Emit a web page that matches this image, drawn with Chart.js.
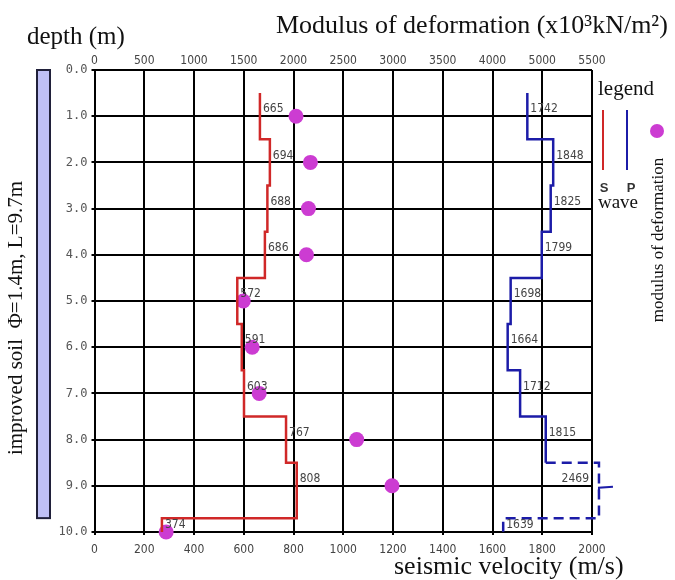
<!DOCTYPE html>
<html>
<head>
<meta charset="utf-8">
<script src="https://cdn.jsdelivr.net/npm/chart.js@4"></script>
<style>
  body { margin: 0; background: #fff; }
</style>
</head>
<body>
<canvas id="chart" width="675" height="580"></canvas>
<script>
// depth of the top of each logged layer (m); logs end at bottomDepth
const layerTops = [0.5, 1.5, 2.5, 3.5, 4.5, 5.5, 6.5, 7.5, 8.5, 9.7];
const bottomDepth = 10.0;

// S wave velocity per layer (m/s)
const sWave = [665, 705, 695, 685, 574, 592, 601, 770, 813, 271];
// P wave velocity per layer (m/s), layers from pDashedFrom are drawn dashed
const pWave = [1740, 1844, 1834, 1798, 1673, 1661, 1711, 1814, 2028, 1643];
const pDashedFrom = 8;

// values written beside the logs at every metre
const labelDepths = [1, 2, 3, 4, 5, 6, 7, 8, 9, 10];
const sLabels = [665, 694, 688, 686, 572, 591, 603, 767, 808, 374];
const pLabels = [1742, 1848, 1825, 1799, 1698, 1664, 1712, 1815, 2469, 1639];

// modulus of deformation (x10^3 kN/m2)
const modDepths = [1, 2, 3, 4, 5, 6, 7, 8, 9, 10];
const modulus = [2025, 2170, 2150, 2130, 1495, 1585, 1655, 2635, 2990, 720];

// top axis labels as printed
const modulusTickLabels = ['0', '500', '1000', '1500', '2000', '2500', '3000', '3500', '4000', '5000', '5500'];

// improved soil column length (m)
const pileLength = 9.7;

const S_COLOR = '#d02828';
const P_COLOR = '#1c1ca8';
const MOD_COLOR = '#cc3cd2';
const TICK_FONT = "'Liberation Sans Narrow', 'DejaVu Sans Condensed', sans-serif";
const SERIF = "'Liberation Serif', serif";

function layerBottom(i) {
    return i + 1 < layerTops.length ? layerTops[i + 1] : bottomDepth;
}

// turn layer values into a vertical step line
function stepPoints(vals, from, to) {
    const pts = [];
    for (let i = from; i < to; i++) {
        pts.push({ x: vals[i], y: layerTops[i] });
        pts.push({ x: vals[i], y: layerBottom(i) });
    }
    return pts;
}

function layerAt(depth) {
    let idx = 0;
    layerTops.forEach((t, i) => { if (t <= depth) idx = i; });
    return idx;
}

const sPoints = stepPoints(sWave, 0, layerTops.length);
const pSolid = stepPoints(pWave, 0, pDashedFrom);
const pDashed = [pSolid[pSolid.length - 1]].concat(stepPoints(pWave, pDashedFrom, layerTops.length));
const modPoints = modDepths.map((d, i) => ({ x: modulus[i], y: d }));

const decorPlugin = {
    id: 'decor',
    afterDatasetsDraw(chart) {
        const ctx = chart.ctx;
        const x = chart.scales.x;
        const y = chart.scales.y;
        ctx.save();

        // values beside the logs
        ctx.font = '12px ' + TICK_FONT;
        ctx.fillStyle = '#444';
        ctx.textBaseline = 'bottom';
        labelDepths.forEach((d, i) => {
            const py = y.getPixelForValue(d) - 1;
            const sv = sWave[layerAt(d - 0.05)];
            ctx.textAlign = 'left';
            ctx.fillText(String(sLabels[i]), x.getPixelForValue(sv) + 3, py);

            const pv = pWave[layerAt(d - 0.05)];
            const lx = x.getPixelForValue(pv);
            if (pLabels[i] > x.max) {
                ctx.textAlign = 'right';
                ctx.fillText(String(pLabels[i]), chart.chartArea.right - 3, py);
                // off-scale marker
                ctx.strokeStyle = P_COLOR;
                ctx.lineWidth = 2;
                ctx.beginPath();
                ctx.moveTo(lx, py + 8);
                ctx.lineTo(lx, py + 3);
                ctx.lineTo(lx + 14, py + 2);
                ctx.stroke();
            } else {
                ctx.textAlign = 'left';
                ctx.fillText(String(pLabels[i]), lx + 3, py);
            }
        });

        // improved soil column
        const top = y.getPixelForValue(0);
        const bot = y.getPixelForValue(pileLength);
        ctx.fillStyle = '#bfc0f6';
        ctx.fillRect(37, top, 13, bot - top);
        ctx.strokeStyle = '#20203a';
        ctx.lineWidth = 2;
        ctx.strokeRect(37, top, 13, bot - top);

        // titles
        ctx.fillStyle = '#111';
        ctx.textBaseline = 'alphabetic';
        ctx.textAlign = 'left';
        ctx.font = '25px ' + SERIF;
        ctx.fillText('depth (m)', 27, 44);
        ctx.font = '26px ' + SERIF;
        ctx.fillText('Modulus of deformation (x10³kN/m²)', 276, 33);
        ctx.font = '26px ' + SERIF;
        ctx.fillText('seismic velocity (m/s)', 394, 574);

        // legend
        ctx.textAlign = 'center';
        ctx.font = '21px ' + SERIF;
        ctx.fillText('legend', 626, 95);
        ctx.font = '19px ' + SERIF;
        ctx.fillText('wave', 618, 208);
        ctx.font = 'bold 13px sans-serif';
        ctx.fillStyle = '#333';
        ctx.fillText('S', 604, 192);
        ctx.fillText('P', 631, 192);
        ctx.lineWidth = 2;
        ctx.strokeStyle = S_COLOR;
        ctx.beginPath(); ctx.moveTo(603, 110); ctx.lineTo(603, 170); ctx.stroke();
        ctx.strokeStyle = P_COLOR;
        ctx.beginPath(); ctx.moveTo(627, 110); ctx.lineTo(627, 170); ctx.stroke();
        ctx.fillStyle = MOD_COLOR;
        ctx.beginPath(); ctx.arc(657, 131, 7, 0, Math.PI * 2); ctx.fill();

        // rotated texts
        ctx.fillStyle = '#111';
        ctx.font = '17px ' + SERIF;
        ctx.save();
        ctx.translate(663, 240);
        ctx.rotate(-Math.PI / 2);
        ctx.fillText('modulus of deformation', 0, 0);
        ctx.restore();

        ctx.font = '21px ' + SERIF;
        ctx.save();
        ctx.translate(22, 318);
        ctx.rotate(-Math.PI / 2);
        ctx.fillText('improved soil  Φ=1.4m, L=9.7m', 0, 0);
        ctx.restore();

        ctx.restore();
    }
};

new Chart(document.getElementById('chart'), {
    type: 'scatter',
    data: {
        datasets: [
            {
                label: 'S wave',
                data: sPoints,
                showLine: true,
                borderColor: S_COLOR,
                borderWidth: 2.5,
                pointRadius: 0
            },
            {
                label: 'P wave',
                data: pSolid,
                showLine: true,
                borderColor: P_COLOR,
                borderWidth: 2.5,
                pointRadius: 0
            },
            {
                label: 'P wave (off scale)',
                data: pDashed,
                showLine: true,
                borderColor: P_COLOR,
                borderWidth: 2.5,
                borderDash: [10, 6],
                pointRadius: 0,
                clip: false
            },
            {
                label: 'modulus of deformation',
                data: modPoints,
                xAxisID: 'x2',
                backgroundColor: MOD_COLOR,
                borderWidth: 0,
                pointRadius: 7.5,
                clip: false
            }
        ]
    },
    options: {
        responsive: false,
        animation: false,
        layout: { padding: { left: 0, right: 83, top: 0, bottom: 0 } },
        plugins: {
            legend: { display: false },
            tooltip: { enabled: false }
        },
        scales: {
            x: {
                type: 'linear',
                position: 'bottom',
                min: 0,
                max: 2000,
                ticks: {
                    stepSize: 200,
                    color: '#444',
                    font: { family: TICK_FONT, size: 12 },
                    padding: 8,
                    maxRotation: 0,
                    callback: v => String(v)
                },
                grid: { color: '#000', lineWidth: 2, tickLength: 3 },
                border: { color: '#000', width: 2 },
                afterFit(scale) { scale.height = 48; }
            },
            x2: {
                type: 'linear',
                position: 'top',
                min: 0,
                max: 5000,
                ticks: {
                    stepSize: 500,
                    color: '#444',
                    font: { family: TICK_FONT, size: 12 },
                    padding: 2,
                    maxRotation: 0,
                    callback: (v, i) => modulusTickLabels[i]
                },
                grid: { drawOnChartArea: false, drawTicks: false },
                border: { display: false },
                afterFit(scale) { scale.height = 70; }
            },
            y: {
                type: 'linear',
                reverse: true,
                min: 0,
                max: 10,
                ticks: {
                    stepSize: 1,
                    color: '#555',
                    font: { family: "'DejaVu Sans Mono', monospace", size: 12 },
                    padding: 4,
                    callback: v => v.toFixed(1)
                },
                grid: { color: '#000', lineWidth: 2, tickLength: 3 },
                border: { color: '#000', width: 2 },
                afterFit(scale) { scale.width = 94.5; }
            }
        }
    },
    plugins: [decorPlugin]
});
</script>
</body>
</html>
